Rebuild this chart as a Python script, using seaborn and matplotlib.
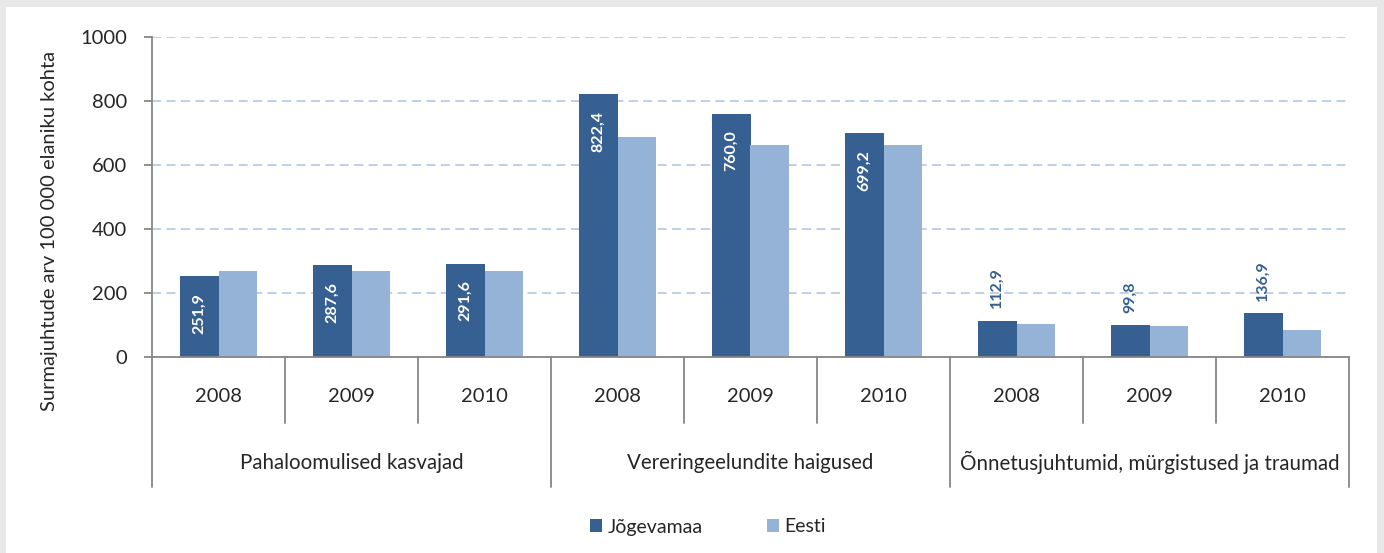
import numpy as np
import pandas as pd
import seaborn as sns
import matplotlib.pyplot as plt
import matplotlib.transforms as mtransforms
from matplotlib.patches import Patch

groups = ["Pahaloomulised kasvajad", "Vereringeelundite haigused",
          "Õnnetusjuhtumid, mürgistused ja traumad"]
years = ["2008", "2009", "2010"]
jogevamaa = [251.9, 287.6, 291.6, 822.4, 760.0, 699.2, 112.9, 99.8, 136.9]
eesti = [269, 269, 269, 687, 662, 662, 103, 97, 84]
series = ["Jõgevamaa", "Eesti"]
colors = ["#376092", "#95b3d7"]

slots = [f"{g}|{y}" for g in groups for y in years]
df = pd.DataFrame({
    "slot": slots * 2,
    "value": jogevamaa + eesti,
    "series": [series[0]] * 9 + [series[1]] * 9,
})

sns.set_style("white")
plt.rcParams["font.family"] = ["Lato", "DejaVu Sans"]

fig = plt.figure(figsize=(13.84, 5.53), dpi=100, facecolor="#e8e8e8")
# white panel inside the grey frame
fig.patches.append(plt.Rectangle((6 / 1384, 0), 1371 / 1384, 546 / 553,
                                 transform=fig.transFigure, facecolor="white",
                                 edgecolor="none", zorder=-1))
ax = fig.add_axes([152 / 1384, 1 - 357 / 553, 1197 / 1384, 320 / 553])
ax.set_facecolor("white")

sns.barplot(data=df, x="slot", y="value", hue="series", order=slots,
            hue_order=series, palette=colors, width=0.58, saturation=1,
            linewidth=0, legend=False, ax=ax)

ax.set_xlim(-0.5, 8.5)
ax.set_ylim(0, 1000)
ax.set_yticks(range(0, 1001, 200))
ax.yaxis.grid(True, color="#b9cde5", linestyle=(0, (5, 3)), linewidth=1.3)
ax.set_axisbelow(True)
for s in ["top", "right"]:
    ax.spines[s].set_visible(False)
for s in ["left", "bottom"]:
    ax.spines[s].set_color("#868686")
    ax.spines[s].set_linewidth(1.3)
ax.tick_params(axis="y", length=6, width=1.3, color="#868686", pad=12,
               labelsize=14.5, direction="out", left=True)
ax.set_xticks([])
ax.set_xlabel("")
ax.set_ylabel("")

fig.text(50 / 1384, 1 - 231 / 553, "Surmajuhtude arv 100 000 elaniku kohta",
         rotation=90, ha="center", va="center", fontsize=14.5)

trans = mtransforms.blended_transform_factory(ax.transData, ax.transAxes)
for i, s in enumerate(slots):
    ax.text(i, -0.125, s.split("|")[1], transform=trans, ha="center",
            va="center", fontsize=14.5)
for k, g in enumerate(groups):
    ax.text(3 * k + 1, -0.331, g, transform=trans, ha="center", va="center",
            fontsize=14.8)
for b in np.arange(-0.5, 9, 1.0):
    bottom = -0.406 if (b + 0.5) % 3 == 0 else -0.206
    ax.plot([b, b], [0, bottom], transform=trans, color="#868686", lw=1.3,
            clip_on=False)

# data labels for Jõgevamaa
dark_bars = ax.containers[0]
for i, (bar, v) in enumerate(zip(dark_bars, jogevamaa)):
    x = bar.get_x() + bar.get_width() / 2
    txt = f"{v:.1f}".replace(".", ",")
    if i < 6:
        ax.annotate(txt, (x, v), xytext=(0, -12), textcoords="offset points",
                    rotation=90, ha="center", va="top", color="white",
                    fontsize=11.5, fontweight="bold")
    else:
        ax.annotate(txt, (x, v), xytext=(0, 9), textcoords="offset points",
                    rotation=90, ha="center", va="bottom", color="#376092",
                    fontsize=11.5, fontweight="bold")

handles = [Patch(facecolor=c, edgecolor="none") for c in colors]
fig.legend(handles, series, loc="center", bbox_to_anchor=(708 / 1384, 1 - 527 / 553),
           ncol=2, frameon=False, fontsize=14, handlelength=0.6, handleheight=0.6,
           handletextpad=0.3, columnspacing=3.3)

fig.savefig("out.png", dpi=100, facecolor=fig.get_facecolor())
